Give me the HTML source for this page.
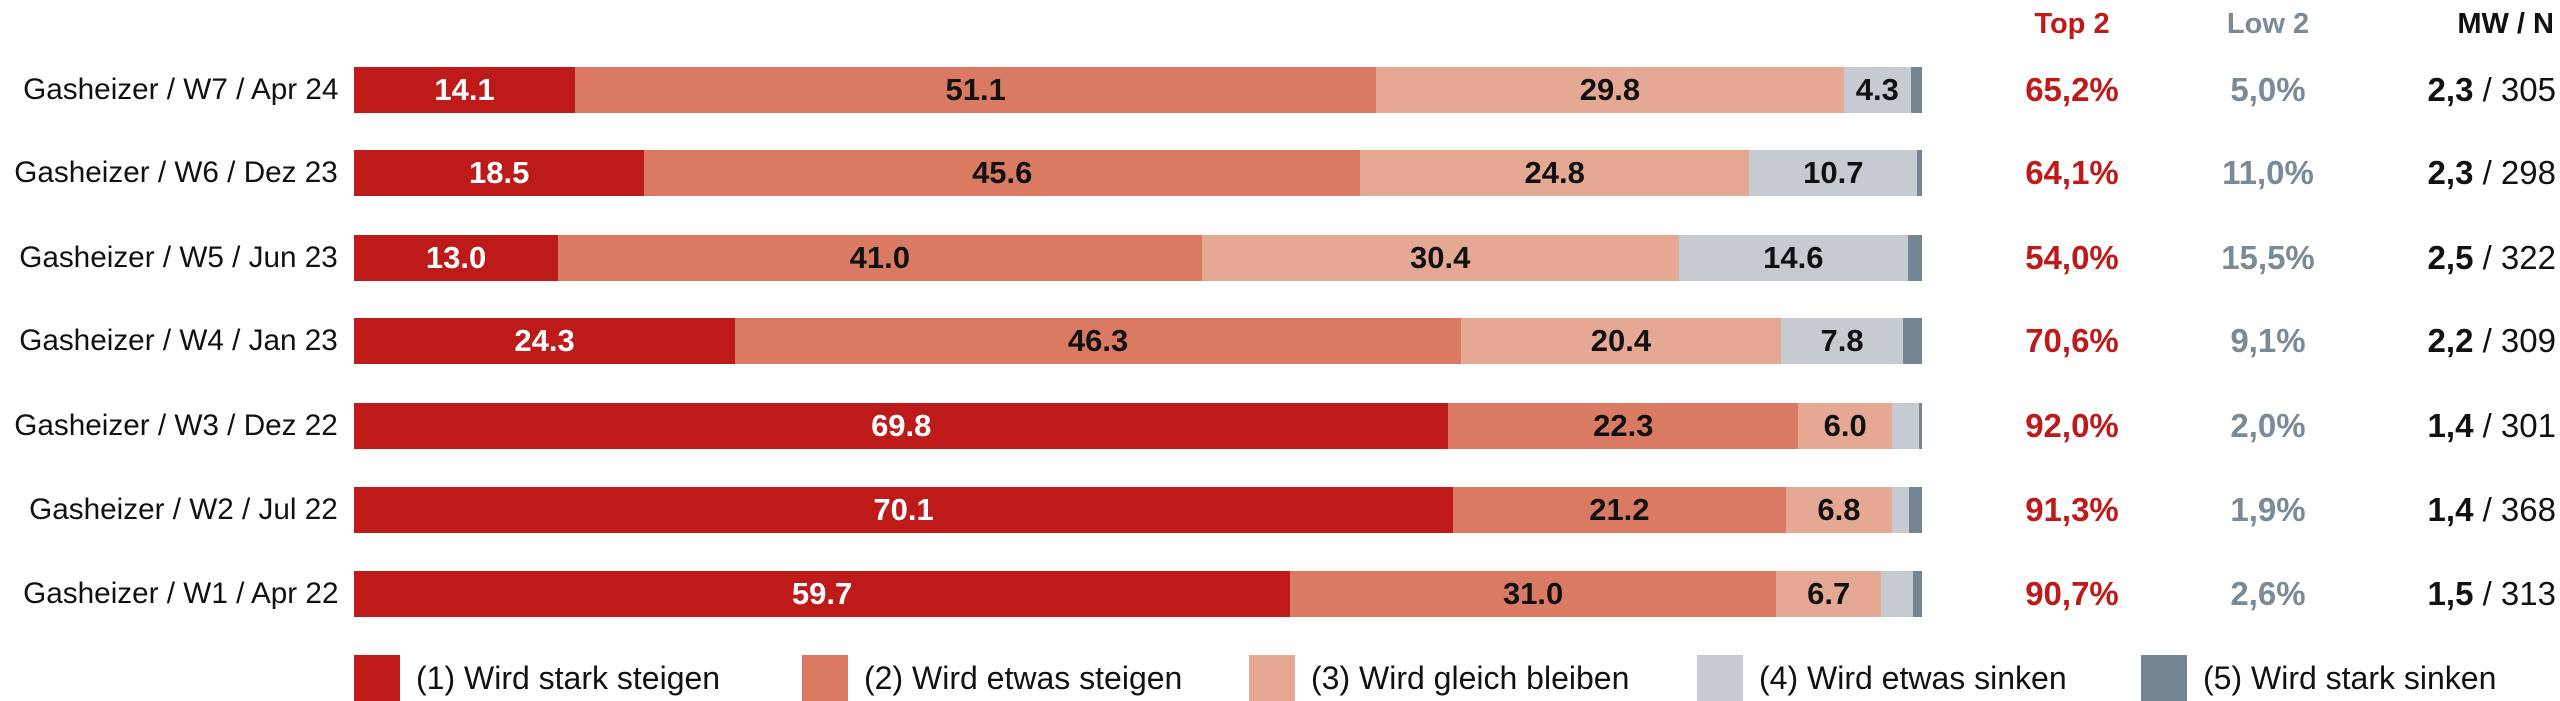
<!DOCTYPE html>
<html><head><meta charset="utf-8"><style>
body{margin:0;width:2560px;height:701px;background:#fff;font-family:"Liberation Sans",sans-serif;position:relative;overflow:hidden}
.lab{position:absolute;right:2222px;font-size:30px;color:#111;white-space:nowrap;transform:scaleX(0.99);transform-origin:right center;line-height:46px}
.bar{position:absolute;left:354px;width:1568px;height:46px;display:flex}
.bar div{height:100%;display:flex;align-items:center;justify-content:center;font-weight:bold;font-size:31px;color:#111;overflow:hidden}
.c1{background:#BE1A1A;color:#fff!important}.c2{background:#DA7A62}.c3{background:#E4A893}.c4{background:#C6CBD2}.c5{background:#748693}
.st{position:absolute;font-size:33px;font-weight:bold;text-align:center;width:200px;line-height:46px}
.t2{left:1972px;color:#BE1A1A}.l2{left:2168px;color:#7A8A96}
.mw{position:absolute;right:4px;font-size:33px;color:#111;line-height:46px}
.hd{position:absolute;top:4px;font-size:29px;font-weight:bold;line-height:40px}
.lg{position:absolute;top:655px;height:46px;display:flex;align-items:center;font-size:32px;color:#111}
.lg span{display:inline-block;width:46px;height:46px;margin-right:16px}
</style></head><body>
<div class="hd" style="left:1972px;width:200px;text-align:center;color:#BE1A1A">Top 2</div>
<div class="hd" style="left:2168px;width:200px;text-align:center;color:#7A8A96">Low 2</div>
<div class="hd" style="right:6px;color:#111">MW / N</div>

<div class="lab" style="top:67px">Gasheizer / W7 / Apr 24</div>
<div class="bar" style="top:67px"><div class="c1" style="flex:14.1">14.1</div><div class="c2" style="flex:51.1">51.1</div><div class="c3" style="flex:29.8">29.8</div><div class="c4" style="flex:4.3">4.3</div><div class="c5" style="flex:0.7"></div></div>
<div class="st t2" style="top:67px">65,2%</div><div class="st l2" style="top:67px">5,0%</div><div class="mw" style="top:67px"><b>2,3</b> / 305</div>

<div class="lab" style="top:150px">Gasheizer / W6 / Dez 23</div>
<div class="bar" style="top:150px"><div class="c1" style="flex:18.5">18.5</div><div class="c2" style="flex:45.6">45.6</div><div class="c3" style="flex:24.8">24.8</div><div class="c4" style="flex:10.7">10.7</div><div class="c5" style="flex:0.3"></div></div>
<div class="st t2" style="top:150px">64,1%</div><div class="st l2" style="top:150px">11,0%</div><div class="mw" style="top:150px"><b>2,3</b> / 298</div>

<div class="lab" style="top:235px">Gasheizer / W5 / Jun 23</div>
<div class="bar" style="top:235px"><div class="c1" style="flex:13.0">13.0</div><div class="c2" style="flex:41.0">41.0</div><div class="c3" style="flex:30.4">30.4</div><div class="c4" style="flex:14.6">14.6</div><div class="c5" style="flex:0.9"></div></div>
<div class="st t2" style="top:235px">54,0%</div><div class="st l2" style="top:235px">15,5%</div><div class="mw" style="top:235px"><b>2,5</b> / 322</div>

<div class="lab" style="top:318px">Gasheizer / W4 / Jan 23</div>
<div class="bar" style="top:318px"><div class="c1" style="flex:24.3">24.3</div><div class="c2" style="flex:46.3">46.3</div><div class="c3" style="flex:20.4">20.4</div><div class="c4" style="flex:7.8">7.8</div><div class="c5" style="flex:1.2"></div></div>
<div class="st t2" style="top:318px">70,6%</div><div class="st l2" style="top:318px">9,1%</div><div class="mw" style="top:318px"><b>2,2</b> / 309</div>

<div class="lab" style="top:403px">Gasheizer / W3 / Dez 22</div>
<div class="bar" style="top:403px"><div class="c1" style="flex:69.8">69.8</div><div class="c2" style="flex:22.3">22.3</div><div class="c3" style="flex:6.0">6.0</div><div class="c4" style="flex:1.7"></div><div class="c5" style="flex:0.2"></div></div>
<div class="st t2" style="top:403px">92,0%</div><div class="st l2" style="top:403px">2,0%</div><div class="mw" style="top:403px"><b>1,4</b> / 301</div>

<div class="lab" style="top:487px">Gasheizer / W2 / Jul 22</div>
<div class="bar" style="top:487px"><div class="c1" style="flex:70.1">70.1</div><div class="c2" style="flex:21.2">21.2</div><div class="c3" style="flex:6.8">6.8</div><div class="c4" style="flex:1.1"></div><div class="c5" style="flex:0.8"></div></div>
<div class="st t2" style="top:487px">91,3%</div><div class="st l2" style="top:487px">1,9%</div><div class="mw" style="top:487px"><b>1,4</b> / 368</div>

<div class="lab" style="top:571px">Gasheizer / W1 / Apr 22</div>
<div class="bar" style="top:571px"><div class="c1" style="flex:59.7">59.7</div><div class="c2" style="flex:31.0">31.0</div><div class="c3" style="flex:6.7">6.7</div><div class="c4" style="flex:2.0"></div><div class="c5" style="flex:0.6"></div></div>
<div class="st t2" style="top:571px">90,7%</div><div class="st l2" style="top:571px">2,6%</div><div class="mw" style="top:571px"><b>1,5</b> / 313</div>

<div class="lg" style="left:354px"><span class="c1"></span>(1) Wird stark steigen</div>
<div class="lg" style="left:802px"><span class="c2"></span>(2) Wird etwas steigen</div>
<div class="lg" style="left:1249px"><span class="c3"></span>(3) Wird gleich bleiben</div>
<div class="lg" style="left:1697px"><span class="c4"></span>(4) Wird etwas sinken</div>
<div class="lg" style="left:2141px"><span class="c5"></span>(5) Wird stark sinken</div>
</body></html>
